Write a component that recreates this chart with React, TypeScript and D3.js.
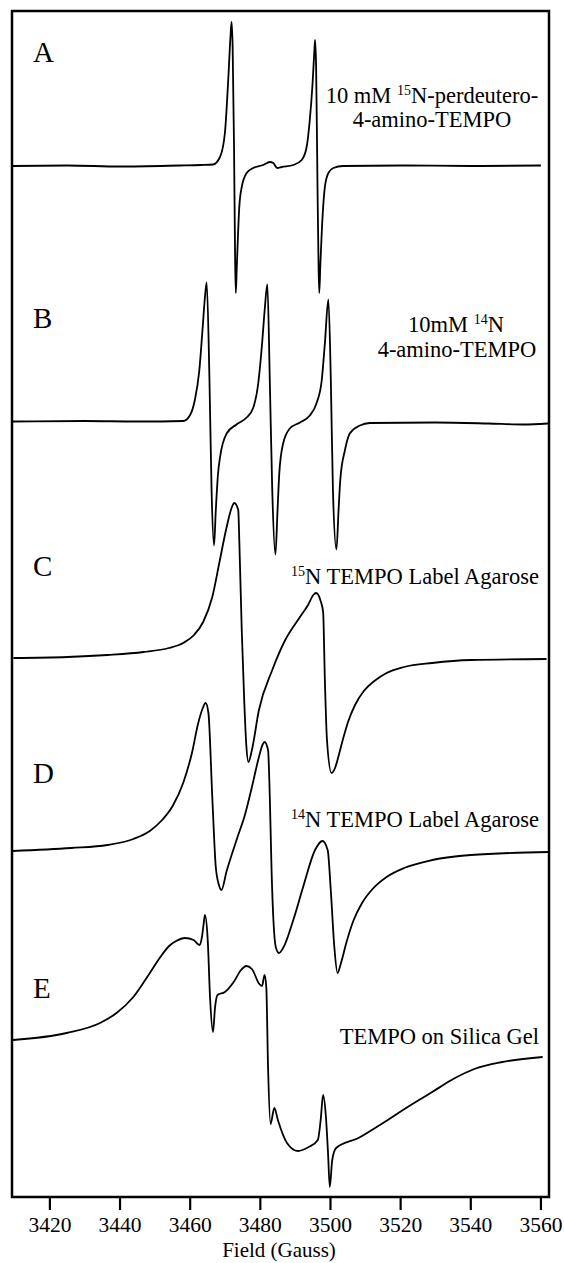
import React from "react";
import * as d3 from "d3";

// field axis (Gauss)
const fieldDomain = [3409.2, 3562.3];
const fieldTicks = [3420, 3440, 3460, 3480, 3500, 3520, 3540, 3560];

// spectra: [field (G), intensity (a.u.)]
const spectrumA: [number, number][] = [
  [3409.4, 0], [3425, 0.5], [3440, -0.5], [3457, 0.5], [3463, 1], [3466.5, 1.5],
  [3468.5, 9], [3469.9, 33], [3470.8, 83], [3471.5, 130], [3471.8, 144], [3472.1, 120],
  [3472.5, 20], [3472.8, -90], [3473.0, -127], [3473.3, -100], [3474.0, -41], [3474.7, -21],
  [3476.1, -7], [3478.0, -2], [3480.8, 1], [3482.7, 4], [3483.7, 3], [3484.8, -2],
  [3486.1, -1], [3489.4, 1], [3491.8, 6], [3493.2, 19], [3494.1, 46], [3494.9, 83],
  [3495.4, 115], [3495.6, 126], [3495.9, 100], [3496.3, -20], [3496.6, -100], [3496.8, -127],
  [3497.1, -100], [3497.8, -47], [3498.4, -21], [3499.4, -7], [3500.8, -2], [3503.6, 0],
  [3520, 0.5], [3540, 0], [3560.0, 0.5],
];

const spectrumB: [number, number][] = [
  [3409.4, 0], [3430, 0.5], [3445, 0], [3458.0, 0.5],
  [3459.9, 6], [3461.3, 21], [3462.6, 51], [3463.5, 91], [3464.2, 124], [3464.7, 139],
  [3465.5, 41], [3466.1, -69], [3466.8, -124], [3467.3, -89], [3467.9, -54], [3468.5, -36],
  [3470.4, -12], [3473.2, -3], [3476.1, 4], [3478.0, 14], [3479.4, 38], [3480.5, 78],
  [3481.3, 114], [3482.0, 137], [3482.7, 41], [3483.4, -69], [3484.3, -133], [3484.9, -89],
  [3485.4, -52], [3486.5, -22], [3488.4, -7], [3491.3, -1], [3494.1, 6], [3496.0, 18],
  [3497.5, 41], [3498.4, 78], [3499.4, 122], [3500.1, 41], [3500.7, -69], [3501.7, -128],
  [3502.3, -89], [3502.8, -58], [3504.1, -29], [3505.5, -12], [3508.4, -4], [3511.2, -1.5],
  [3530, -1], [3545, -2], [3555, -3], [3562, -2],
];

const spectrumC: [number, number][] = [
  [3409.6, 0], [3425, 1], [3436.4, 3], [3446.7, 6], [3453.9, 10],
  [3458.0, 15], [3461.1, 23], [3463.7, 36], [3466.3, 61], [3468.3, 95], [3470.4, 131],
  [3471.9, 151], [3472.6, 155], [3473.7, 148], [3474.0, 118], [3474.7, 28], [3475.4, -42],
  [3476.0, -87], [3476.6, -104], [3477.6, -92], [3479.6, -52], [3483.4, -12], [3487.1, 18],
  [3491.3, 41], [3493.6, 53], [3495.1, 63], [3495.9, 65], [3497.2, 57], [3497.9, 46],
  [3498.4, -22], [3499.0, -82], [3500.3, -115], [3501.3, -110], [3502.3, -98], [3503.5, -82],
  [3505.0, -64], [3507.0, -47], [3509.5, -33], [3512.5, -23], [3516.0, -15], [3521.0, -9],
  [3529.0, -5], [3540.0, -2], [3561.6, -1],
];

const spectrumD: [number, number][] = [
  [3409.4, 0], [3426.1, 3], [3436.4, 6], [3443.8, 12], [3448.5, 20], [3452.0, 31],
  [3455.0, 45], [3458.0, 68], [3460.5, 98], [3462.3, 128], [3463.6, 143], [3464.4, 148],
  [3465.2, 138], [3466.3, 54], [3467.3, -16], [3468.2, -34], [3468.9, -39], [3470.4, -20],
  [3473.5, 14], [3475.6, 36], [3477.6, 64], [3479.6, 94], [3480.6, 106], [3481.2, 109],
  [3482.2, 101], [3482.7, 54], [3483.2, -19], [3484.4, -96], [3485.3, -102], [3486.5, -97],
  [3489.4, -69], [3492.2, -36], [3495.6, 1], [3497.7, 10], [3499.2, 1], [3500.1, -40],
  [3501.1, -96], [3502.0, -122], [3503.0, -112], [3504.5, -92], [3506.5, -70], [3509.0, -52],
  [3512.0, -38], [3516.0, -26], [3521.0, -17], [3529.0, -9], [3540.0, -4], [3562.1, -1],
];

const spectrumE: [number, number][] = [
  [3409.4, 0], [3424.8, 7], [3434.3, 17], [3439.0, 27], [3443.8, 43], [3448.5, 67],
  [3451.5, 83], [3454.0, 94], [3456.0, 99], [3458.5, 102], [3461.0, 100], [3462.6, 95],
  [3463.4, 104], [3463.8, 115], [3464.2, 125], [3465.0, 100], [3465.7, 40], [3466.5, 8],
  [3467.1, 33], [3467.8, 45], [3469.9, 48], [3472.4, 58], [3474.5, 70], [3476.0, 74],
  [3477.6, 71], [3479.7, 56], [3480.5, 54], [3481.2, 65], [3481.7, 53], [3482.2, -27],
  [3482.9, -84], [3484.0, -68], [3485.0, -80], [3487.6, -103], [3490.7, -111], [3493.8, -107],
  [3496.4, -100], [3497.2, -80], [3497.9, -55], [3498.7, -77], [3499.3, -113], [3499.8, -147],
  [3500.5, -120], [3501.6, -108], [3508.0, -98], [3515.0, -83], [3522.0, -67], [3529.0, -52],
  [3535.0, -39], [3541.0, -29], [3549.0, -22], [3560.5, -17],
];

const spectra = [spectrumA, spectrumB, spectrumC, spectrumD, spectrumE];
// vertical stacking of each trace's zero line (a.u. below top of frame)
const stackOffsets = [-155, -410.5, -647, -840, -1029];
const panelLetters = ["A", "B", "C", "D", "E"];

const FONT = "'Liberation Serif', 'Times New Roman', 'DejaVu Serif', serif";

const App: React.FC = () => {
  const width = 564;
  const height = 1263;
  const frame = { left: 12, right: 549, top: 11, bottom: 1197 };

  const x = d3.scaleLinear().domain(fieldDomain).range([frame.left, frame.right]);
  const y = d3.scaleLinear().domain([0, -1186]).range([frame.top, frame.bottom]);

  const paths = spectra.map((s, i) => {
    const off = stackOffsets[i];
    const line = d3
      .line<[number, number]>()
      .x((d) => x(d[0]))
      .y((d) => y(off + d[1]))
      .curve(d3.curveMonotoneX);
    return line(s) || "";
  });

  const letterBaselines = [61.7, 328.3, 576, 782.7, 998];
  const txt: React.CSSProperties = { fontFamily: FONT };

  return (
    <svg
      width={width}
      height={height}
      style={{ position: "absolute", left: 0, top: 0, background: "#fff", fontFamily: FONT }}
    >
      <rect width={width} height={height} fill="#fff" />

      {paths.map((d, i) => (
        <path key={i} d={d} fill="none" stroke="#000" strokeWidth={1.8} strokeLinejoin="round" />
      ))}

      {panelLetters.map((l, i) => (
        <text key={l} x={33} y={letterBaselines[i]} fontSize={29} fill="#000" style={txt}>
          {l}
        </text>
      ))}

      <g fontSize={22.5} fill="#000" style={txt}>
        <text x={432} y={102.7} textAnchor="middle" style={txt}>
          <tspan>10 mM </tspan>
          <tspan fontSize={14} dy={-8}>15</tspan>
          <tspan dy={8}>N-perdeutero-</tspan>
        </text>
        <text x={432} y={126.7} textAnchor="middle" style={txt}>
          4-amino-TEMPO
        </text>
        <text x={456} y={331.7} textAnchor="middle" style={txt}>
          <tspan>10mM </tspan>
          <tspan fontSize={14} dy={-8}>14</tspan>
          <tspan dy={8}>N</tspan>
        </text>
        <text x={457} y={357} textAnchor="middle" style={txt}>
          4-amino-TEMPO
        </text>
        <text x={539} y={584} textAnchor="end" style={txt}>
          <tspan fontSize={14} dy={-8}>15</tspan>
          <tspan dy={8}>N TEMPO Label Agarose</tspan>
        </text>
        <text x={539} y={826.7} textAnchor="end" style={txt}>
          <tspan fontSize={14} dy={-8}>14</tspan>
          <tspan dy={8}>N TEMPO Label Agarose</tspan>
        </text>
        <text x={539} y={1044} textAnchor="end" style={txt}>
          TEMPO on Silica Gel
        </text>
      </g>

      <rect
        x={frame.left}
        y={frame.top}
        width={frame.right - frame.left}
        height={frame.bottom - frame.top}
        fill="none"
        stroke="#000"
        strokeWidth={2.5}
      />

      {fieldTicks.map((t) => (
        <g key={t} transform={`translate(${x(t)},${frame.bottom})`}>
          <line y1={0} y2={13} stroke="#000" strokeWidth={2.2} />
          <text y={34.7} textAnchor="middle" fontSize={21.5} fill="#000" style={txt}>
            {t}
          </text>
        </g>
      ))}

      <text x={279} y={1257} textAnchor="middle" fontSize={21} fill="#000" style={txt}>
        Field (Gauss)
      </text>
    </svg>
  );
};

export default App;
